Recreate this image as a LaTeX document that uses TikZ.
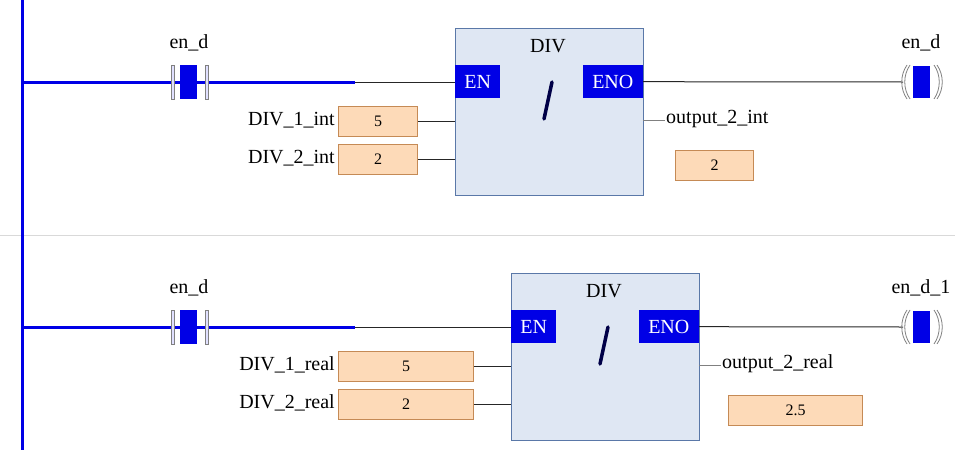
\documentclass[tikz,border=0pt]{standalone}
\usepackage{fontspec}
\setmainfont{Liberation Serif}
\definecolor{fbfill}{HTML}{DFE7F3}
\definecolor{fbdraw}{HTML}{5A78A8}
\definecolor{pinblue}{HTML}{0000E6}
\definecolor{valfill}{HTML}{FDDAB8}
\definecolor{valdraw}{HTML}{C58A55}
\begin{document}
\begin{tikzpicture}[x=1pt,y=-1pt,
  rail/.style={draw=pinblue,line width=3pt},
  wire/.style={draw=black!85,line width=1pt},
  fb/.style={draw=fbdraw,fill=fbfill,line width=1.2pt},
  pin/.style={fill=pinblue,text=white,inner sep=0pt,font=\fontsize{20}{20}\selectfont},
  val/.style={draw=valdraw,fill=valfill,line width=1pt,inner sep=0pt,font=\fontsize{16}{16}\selectfont},
  lbl/.style={font=\fontsize{20}{20}\selectfont,inner sep=1pt},
  bar/.style={draw=gray,fill=blue!12,line width=0.8pt}]
\useasboundingbox (0,0) rectangle (955,450);
\draw[black!15,line width=0.8pt] (0,235) -- (955,235);
\draw[rail] (22,0) -- (22,450);
\foreach \r/\dy/\bx/\ix/\ox/\ow/\oname/\inA/\inB/\outv/\coil in {
  1/0/455/417/675/78/output\_2\_int/DIV\_1\_int/DIV\_2\_int/2/en\_d,
  2/245/511/473/728/134/output\_2\_real/DIV\_1\_real/DIV\_2\_real/2.5/en\_d\_1}{
  \begin{scope}[yshift=-\dy pt]
  \draw[rail] (22,82) -- (355,82);
  \draw[wire] (355,82) -- (\bx,82);
  \node[lbl] (c\r) at (189,43) {en\_d};
  \draw[bar] (171,65) rectangle (174,99);
  \draw[bar] (205,65) rectangle (208,99);
  \fill[pinblue] (180,65) rectangle (197,99);
  \node[fb,minimum width=188pt,minimum height=167pt,anchor=north west] (b\r) at (\bx,28) {};
  \node[lbl] at (\bx+93,46) {DIV};
  \node[pin,minimum width=45pt,minimum height=33pt,anchor=north west] (en\r) at (\bx,65) {EN};
  \node[pin,minimum width=60pt,minimum height=33pt,anchor=north east] (eno\r) at (\bx+188,65) {ENO};
  \draw[black!30!blue!40!black,line width=3.5pt,line cap=round] (\bx+89,119) -- (\bx+97,82);
  \node[val,minimum width={\ix-338},minimum height=30pt,anchor=north west] (i1\r) at (338,106) {5};
  \node[val,minimum width={\ix-338},minimum height=30pt,anchor=north west] (i2\r) at (338,144) {2};
  \node[lbl,anchor=east] at (336,120) {\inA};
  \node[lbl,anchor=east] at (336,158) {\inB};
  \draw[wire] (i1\r.east) -- (i1\r.east -| b\r.west);
  \draw[wire] (i2\r.east) -- (i2\r.east -| b\r.west);
  \draw[gray,line width=1pt] (\bx+188,120) -- (\bx+210,120);
  \node[lbl,anchor=west] at (\bx+210,119) {\oname};
  \node[val,minimum width=\ow pt,minimum height=30pt,anchor=north west] (o\r) at (\ox,150) {\outv};
  \coordinate (cl\r) at (903,82);
  \draw[wire] (eno\r.east) -- (cl\r);
  \fill[pinblue] (913,66) rectangle (930,98);
  \draw[gray,line width=0.8pt] (907,65) .. controls (900,75) and (900,89) .. (907,99);
  \draw[gray,line width=0.8pt] (910,65) .. controls (903,75) and (903,89) .. (910,99);
  \draw[gray,line width=0.8pt] (934,65) .. controls (941,75) and (941,89) .. (934,99);
  \draw[gray,line width=0.8pt] (937,65) .. controls (944,75) and (944,89) .. (937,99);
  \node[lbl] at (921,43) {\coil};
  \end{scope}}
\end{tikzpicture}
\end{document}
